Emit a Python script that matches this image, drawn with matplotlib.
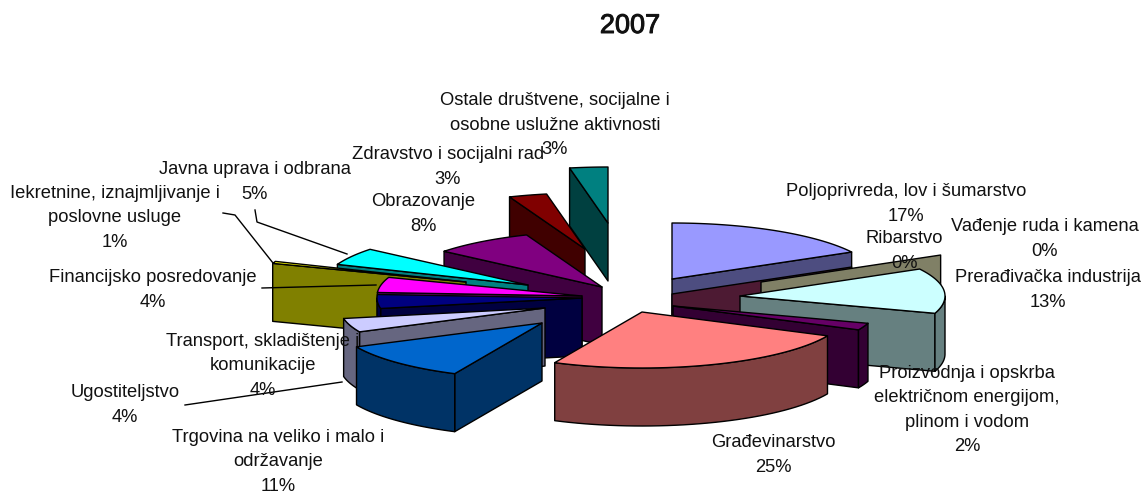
import matplotlib
matplotlib.use('Agg')
import matplotlib.pyplot as plt
import matplotlib.patheffects as pe
from matplotlib.patches import Polygon
import numpy as np

plt.rcParams['font.family'] = ['Liberation Sans', 'DejaVu Sans']

# Data
names = ['Poljoprivreda, lov i šumarstvo', 'Vađenje ruda i kamena', 'Ribarstvo',
         'Prerađivačka industrija', 'Proizvodnja i opskrba\nelektričnom energijom,\nplinom i vodom',
         'Građevinarstvo', 'Trgovina na veliko i malo i\nodržavanje', 'Ugostiteljstvo',
         'Transport, skladištenje i\nkomunikacije', 'Financijsko posredovanje',
         'Iekretnine, iznajmljivanje i\nposlovne usluge', 'Javna uprava i odbrana',
         'Obrazovanje', 'Zdravstvo i socijalni rad',
         'Ostale društvene, socijalne i\nosobne uslužne aktivnosti']
values = [17, 0, 0, 13, 2, 25, 11, 4, 4, 4.4, 0.6, 5, 8, 3, 3]
colors = ['#9999FF', '#FFFFCC', '#993366', '#CCFFFF', '#660066', '#FF8080', '#0066CC', '#CCCCFF',
          '#000080', '#FF00FF', '#FFFF00', '#00FFFF', '#800080', '#800000', '#008080']

# Layout: where each exploded slice has its tip, in pixels
tip_x = [672, 761, 672, 740, 673, 642, 542, 545, 582, 582, 466, 528, 602, 585, 608]
tip_y = [279, 282, 294, 296, 306, 312, 323, 308, 298, 296, 282, 285, 287, 249, 223]
label_x = [906, 1045, 904, 1048, 967, 773, 278, 125, 263, 153, 115, 255, 423, 448, 555]
label_y = [204, 239, 251, 290, 410, 455, 462, 405, 366, 290, 218, 182, 214, 167, 125]
draw_order = [14, 13, 12, 0, 2, 1, 3, 4, 11, 10, 9, 8, 7, 6, 5]

RX = 205
RY = 56
DEPTH = 58


def darker(c):
    return tuple(v * 0.5 for v in matplotlib.colors.to_rgb(c))


def point(cx, cy, theta):
    return cx + RX * np.sin(theta), cy - RY * np.cos(theta)


def draw_slice(ax, cx, cy, a, b, color):
    side = darker(color)
    style = dict(edgecolor='black', linewidth=1.0, joinstyle='round')

    # cut faces that look towards the viewer
    for theta, visible in [(a, np.sin(a) < 0), (b, np.sin(b) > 0)]:
        if visible:
            x, y = point(cx, cy, theta)
            ax.add_patch(Polygon([(cx, cy), (x, y), (x, y + DEPTH), (cx, cy + DEPTH)],
                                 facecolor=side, **style))

    # outer wall, front half only
    lo, hi = max(a, np.pi / 2), min(b, 3 * np.pi / 2)
    if hi > lo:
        t = np.linspace(lo, hi, 40)
        x, y = point(cx, cy, t)
        wall = list(zip(x, y)) + list(zip(x[::-1], y[::-1] + DEPTH))
        ax.add_patch(Polygon(wall, facecolor=side, **style))

    # top
    if b > a:
        t = np.linspace(a, b, 40)
        x, y = point(cx, cy, t)
        ax.add_patch(Polygon([(cx, cy)] + list(zip(x, y)), facecolor=color, **style))


fig = plt.figure(figsize=(11.41, 4.92), dpi=100)
ax = fig.add_axes([0, 0, 1, 1])
ax.set_xlim(0, 1141)
ax.set_ylim(492, 0)
ax.axis('off')

edges = np.cumsum([0] + values) / sum(values) * 2 * np.pi
for i in draw_order:
    draw_slice(ax, tip_x[i], tip_y[i], edges[i], edges[i + 1], colors[i])

# leader lines
ax.plot([255, 257, 347], [210, 222, 254], color='black', lw=1)
ax.plot([223, 235, 273], [213, 215, 263], color='black', lw=1)
ax.plot([262, 376], [288, 285], color='black', lw=1)
ax.plot([185, 342], [405, 382], color='black', lw=1)

for name, v, x, y in zip(names, values, label_x, label_y):
    ax.text(x, y, f'{name}\n{round(v)}%', ha='center', va='center', ma='center',
            fontsize=13.2, linespacing=1.58, color='#111111', clip_on=True)

title = ax.text(630, 26, '2007', ha='center', va='center', fontsize=19.5, color='#111111')
title.set_path_effects([pe.withStroke(linewidth=0.7, foreground='#111111')])

fig.savefig('out.png', dpi=100)
